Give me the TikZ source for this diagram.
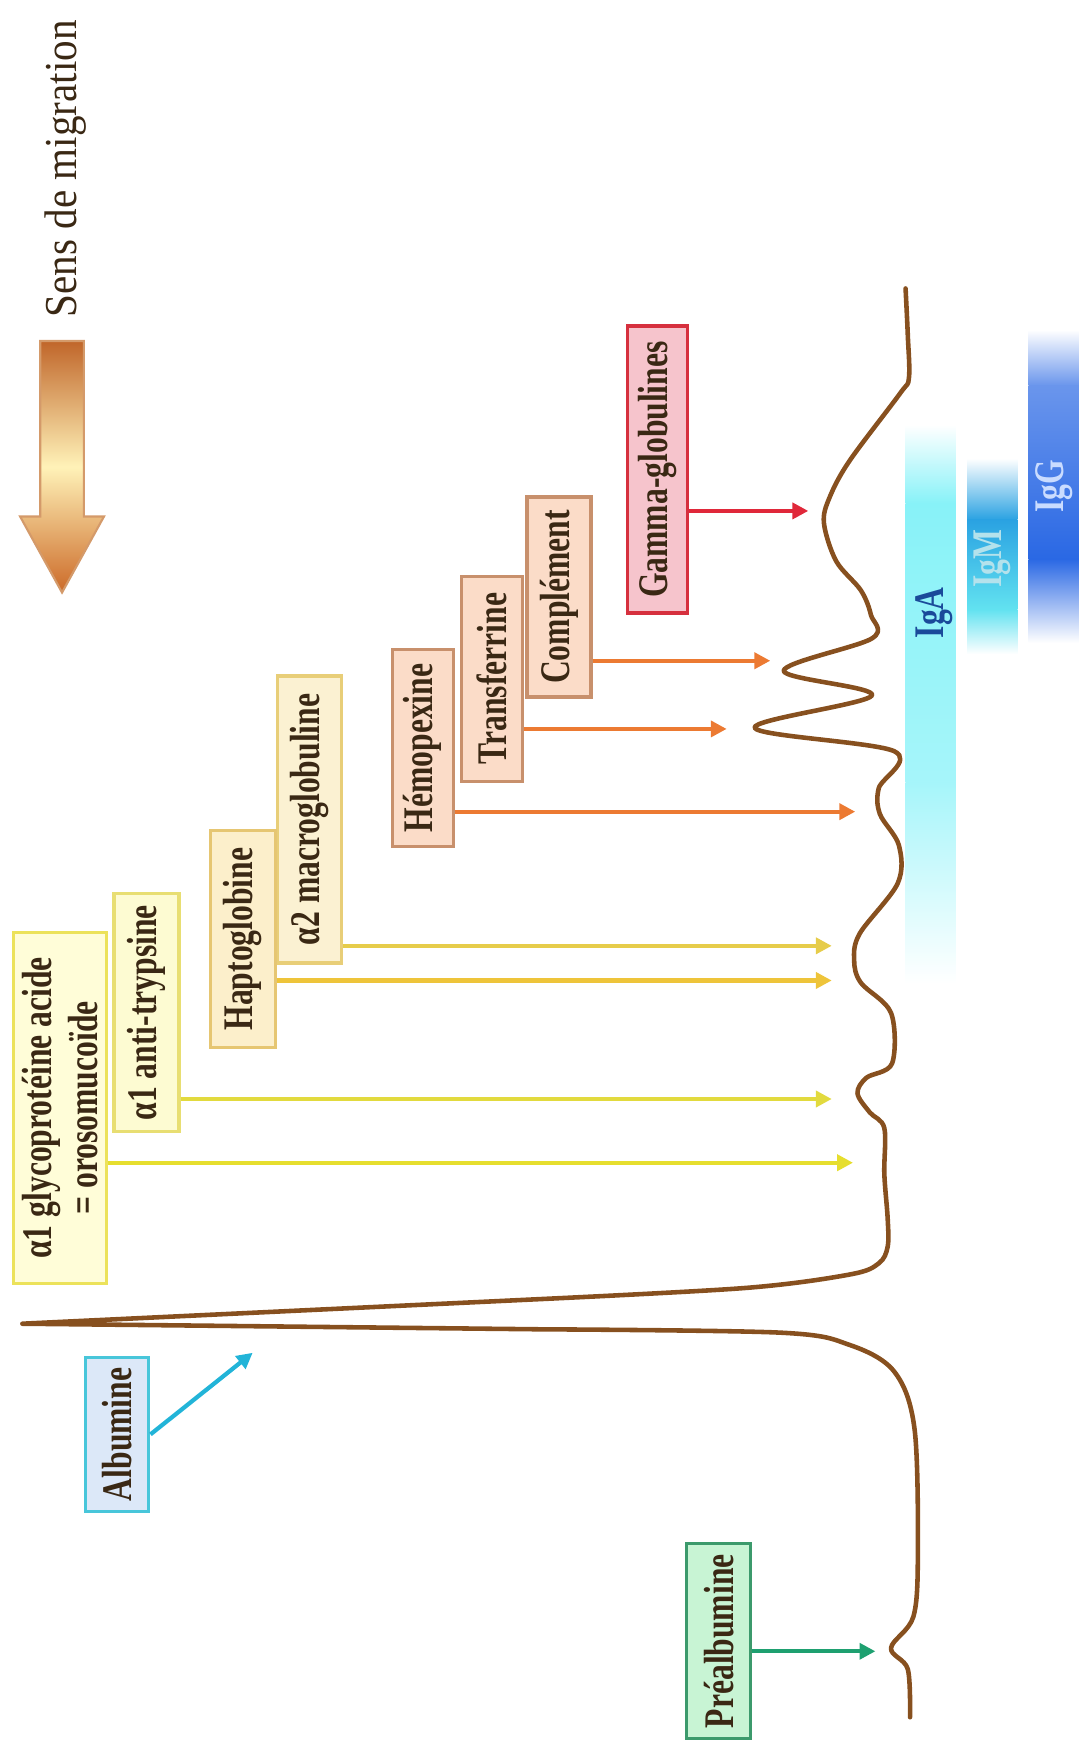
\documentclass[tikz,border=0pt]{standalone}
\usepackage{fontspec}
\usepackage{tikz}
\usetikzlibrary{arrows.meta}
\newfontfamily\lblfont{Liberation Serif}[FakeStretch=0.75]
\newfontfamily\ttlfont{Liberation Serif}[FakeStretch=0.9]

\definecolor{labeltext}{HTML}{3A2814}
\definecolor{curvebrown}{HTML}{87501F}
\definecolor{migtop}{HTML}{C0662A}
\definecolor{migmid}{HTML}{FFF2B8}
\definecolor{migbot}{HTML}{CC6A28}
\definecolor{migedge}{HTML}{D49A6A}
\definecolor{orobord}{HTML}{ECE25A}
\definecolor{orofill}{HTML}{FFFDD8}
\definecolor{oroarr}{HTML}{E6DE2E}
\definecolor{antibord}{HTML}{E8DE72}
\definecolor{antifill}{HTML}{FDFBD2}
\definecolor{antiarr}{HTML}{E2DA3E}
\definecolor{haptobord}{HTML}{E6C672}
\definecolor{haptofill}{HTML}{FCEFCB}
\definecolor{haptoarr}{HTML}{EEC43A}
\definecolor{macrobord}{HTML}{E8CE78}
\definecolor{macrofill}{HTML}{FBF1D2}
\definecolor{macroarr}{HTML}{E6CC4A}
\definecolor{betabord}{HTML}{C8906C}
\definecolor{betafill}{HTML}{FBDCC8}
\definecolor{betaarr}{HTML}{EC7A32}
\definecolor{gammabord}{HTML}{D6303E}
\definecolor{gammafill}{HTML}{F6C4CC}
\definecolor{gammaarr}{HTML}{E0283A}
\definecolor{albbord}{HTML}{48C6DA}
\definecolor{albfill}{HTML}{DCE8F8}
\definecolor{albarr}{HTML}{22B4D8}
\definecolor{prebord}{HTML}{3C9A6C}
\definecolor{prefill}{HTML}{C8F4D4}
\definecolor{prearr}{HTML}{1EA070}
\definecolor{iga}{HTML}{88F2F8}
\definecolor{igm}{HTML}{2AA2E2}
\definecolor{igmlow}{HTML}{62E2F0}
\definecolor{igg}{HTML}{2A68E4}
\definecolor{igatext}{HTML}{1A4A9A}
\definecolor{igmtext}{HTML}{B4E2EC}
\definecolor{iggtext}{HTML}{CADCFF}

\tikzset{
    protbox/.style 2 args={rotate=90, draw=#1, fill=#2, line width=0.9pt, inner sep=0pt,
        text=labeltext, font=\lblfont\bfseries\fontsize{12}{13}\selectfont},
    migr/.style={line width=1.2pt, -{Triangle[length=4.5pt,width=4.5pt]}},
    curve/.style={draw=curvebrown, line width=1.3pt, line join=round, line cap=round},
    iglabel/.style={rotate=90, inner sep=0pt, font=\lblfont\bfseries\fontsize{12}{13}\selectfont}
}

\begin{document}
\begin{tikzpicture}[x=0.1118mm, y=-0.1118mm]
            \useasboundingbox (0,0) rectangle (965,1568);

            % sens de migration
            \node[rotate=90, text=labeltext, font=\ttlfont\fontsize{13}{14}\selectfont] (sens) at (59,151) {Sens de migration};
            \path[draw=migedge, line width=0.6pt, top color=migtop, bottom color=migbot, middle color=migmid]
                (36,305) -- (75,305) -- (75,462) -- (93,462) -- (55.5,530) -- (18,462) -- (36,462) -- cycle;

            % immunoglobulines
            \fill[top color=white, bottom color=iga] (810,380) rectangle (855,450);
            \fill[top color=iga, bottom color=iga!75] (810,450) rectangle (855,700);
            \fill[top color=iga!75, bottom color=white] (810,700) rectangle (855,880);
            \fill[top color=white, bottom color=igm] (865,410) rectangle (910,465);
            \fill[top color=igm, bottom color=igmlow] (865,465) rectangle (910,545);
            \fill[top color=igmlow, bottom color=white] (865,545) rectangle (910,585);
            \fill[top color=white, bottom color=igg!70] (920,295) rectangle (965,345);
            \fill[top color=igg!70, bottom color=igg] (920,345) rectangle (965,500);
            \fill[top color=igg, bottom color=white] (920,500) rectangle (965,575);
            \node[iglabel, text=igatext] (iga) at (836,548) {IgA};
            \node[iglabel, text=igmtext] (igm) at (888,500) {IgM};
            \node[iglabel, text=iggtext] (igg) at (943,435) {IgG};

            % profil
            \draw[curve] plot[smooth, tension=0.55] coordinates {(810,258) (812,300) (813,338) (805,352)
                (760,412) (742,445) (737,468) (748,502) (770,528) (779,550) (780,571) (701,600) (780,622) (675,651)
                (800,672) (786,705) (787,728) (804,756) (803,790) (769,835) (764,859) (770,879) (797,906)
                (798,951) (775,964) (767,978) (778,995) (791,1009) (791,1050) (794,1090) (794,1115)
                (786,1130) (760,1140) (667,1152) (483,1162)}
                -- (20,1184)
                -- plot[smooth, tension=0.55] coordinates {(483,1189) (698,1192) (760,1203) (800,1227)
                (818,1278) (821,1389) (817,1446) (797,1474) (812,1493) (814,1536)};

            \coordinate (pGamma) at (723,457);
            \coordinate (pCompl) at (689,591);
            \coordinate (pTransf) at (650,652);
            \coordinate (pHemo) at (765,726);
            \coordinate (pMacro) at (744,846);
            \coordinate (pHapto) at (744,877);
            \coordinate (pAnti) at (744,983);
            \coordinate (pOroso) at (763,1040);
            \coordinate (pAlb) at (226,1210);
            \coordinate (pPre) at (783,1477);

            % fractions
            \node[protbox={gammabord}{gammafill}, minimum width=2.87cm, minimum height=0.60cm] (gamma) at (588,420) {Gamma-globulines};
            \node[protbox={betabord}{betafill}, minimum width=2.00cm, minimum height=0.64cm] (compl) at (500,534) {Complément};
            \node[protbox={betabord}{betafill}, minimum width=2.05cm, minimum height=0.61cm] (transf) at (440,607) {Transferrine};
            \node[protbox={betabord}{betafill}, minimum width=1.97cm, minimum height=0.61cm] (hemo) at (378,669) {Hémopexine};
            \node[protbox={macrobord}{macrofill}, minimum width=2.87cm, minimum height=0.64cm] (macro) at (277,733) {α2 macroglobuline};
            \node[protbox={haptobord}{haptofill}, minimum width=2.17cm, minimum height=0.65cm] (hapto) at (217,840) {Haptoglobine};
            \node[protbox={antibord}{antifill}, minimum width=2.38cm, minimum height=0.65cm] (anti) at (131,906) {α1 anti-trypsine};
            \node[protbox={orobord}{orofill}, minimum width=3.51cm, minimum height=0.93cm, align=center] (oroso) at (54,991) {α1 glycoprotéine acide\\= orosomucoïde};
            \node[protbox={albbord}{albfill}, minimum width=1.54cm, minimum height=0.63cm] (alb) at (105,1283) {Albumine};
            \node[protbox={prebord}{prefill}, minimum width=1.95cm, minimum height=0.64cm] (pre) at (643,1468) {Préalbumine};

            \draw[migr, gammaarr] (gamma.south |- pGamma) -- (pGamma);
            \draw[migr, betaarr] (compl.south |- pCompl) -- (pCompl);
            \draw[migr, betaarr] (transf.south |- pTransf) -- (pTransf);
            \draw[migr, betaarr] (hemo.south |- pHemo) -- (pHemo);
            \draw[migr, macroarr] (macro.south |- pMacro) -- (pMacro);
            \draw[migr, haptoarr] (hapto.south |- pHapto) -- (pHapto);
            \draw[migr, antiarr] (anti.south |- pAnti) -- (pAnti);
            \draw[migr, oroarr] (oroso.south |- pOroso) -- (pOroso);
            \draw[migr, albarr] (alb.south) -- (pAlb);
            \draw[migr, prearr] (pre.south |- pPre) -- (pPre);
\end{tikzpicture}
\end{document}
